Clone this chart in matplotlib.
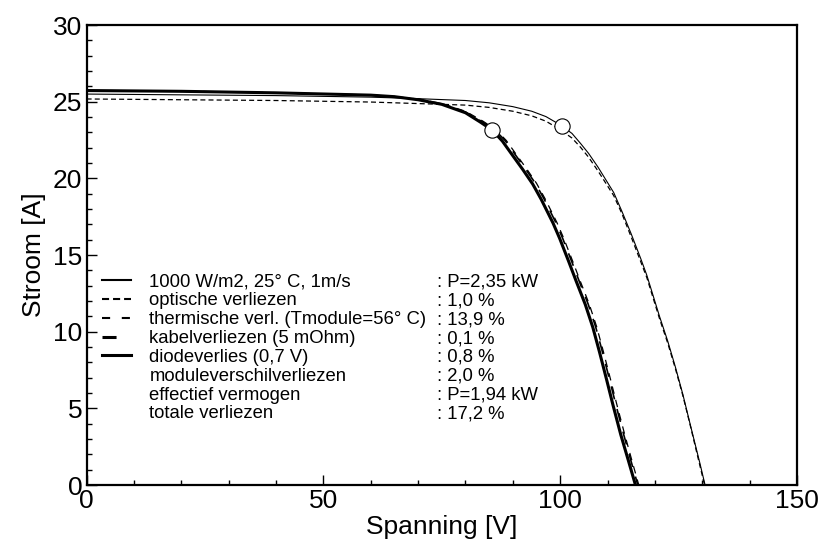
import matplotlib
matplotlib.use("Agg")
import matplotlib.pyplot as plt
from matplotlib.lines import Line2D
from matplotlib.ticker import MultipleLocator

plt.rcParams['font.family'] = ['Liberation Sans', 'DejaVu Sans']

# I-V curves (V in volt, I in ampere)
v_ref = [0, 20, 40, 60, 70, 80, 85, 90, 94, 97, 100.3, 102.5, 104.3, 106, 108,
         111.3, 113, 115, 117, 118.3, 121, 122.7, 124.3, 125.9, 127.4, 129.5, 130.6]
i_ref = [25.5, 25.45, 25.4, 25.3, 25.2, 25.08, 24.93, 24.68, 24.38, 24.03, 23.44, 22.93, 22.28, 21.63, 20.73,
         19.08, 17.88, 16.38, 14.78, 13.68, 10.98, 9.4, 7.73, 5.92, 4.03, 1.43, 0]

v_opt = [0, 20, 40, 60, 70, 80, 85, 90, 94, 97, 100, 102.5, 104.3, 106, 108,
         111.3, 113, 115, 117, 118.3, 121, 122.7, 124.3, 125.9, 127.4, 129.4, 130.5]
i_opt = [25.18, 25.13, 25.08, 24.98, 24.88, 24.78, 24.63, 24.38, 24.08, 23.73, 23.18, 22.63, 22.03, 21.38, 20.48,
         18.88, 17.73, 16.18, 14.58, 13.53, 10.83, 9.27, 7.63, 5.84, 3.98, 1.4, 0]

v_therm = [0, 20, 40, 60, 65, 70, 75, 80, 83.7, 86.4, 88.6, 90.8, 92.9, 95.0, 96.8, 99.3,
           100.7, 102.6, 104.2, 106.1, 107.7, 109.1, 110.6, 111.9, 113.6, 115.1, 116.6]
i_therm = [25.73, 25.68, 25.58, 25.43, 25.33, 25.18, 24.88, 24.38, 23.73, 23.18, 22.48, 21.53, 20.63, 19.68, 18.68, 17.13,
           16.13, 14.63, 13.33, 11.83, 10.33, 8.73, 6.93, 5.33, 3.33, 1.65, 0]

v_cable = [0, 20, 40, 60, 65, 70, 75, 80, 83.5, 86.2, 88.4, 90.6, 92.7, 94.8, 96.6, 99.1,
           100.5, 102.4, 104.0, 105.9, 107.5, 108.9, 110.4, 111.7, 113.4, 114.9, 116.4]
i_cable = [25.73, 25.68, 25.58, 25.43, 25.33, 25.16, 24.86, 24.33, 23.7, 23.16, 22.46, 21.51, 20.61, 19.66, 18.66, 17.11,
           16.11, 14.61, 13.31, 11.81, 10.31, 8.71, 6.91, 5.31, 3.31, 1.63, 0]

v_diode = [0, 20, 40, 60, 65, 70, 75, 80, 83.1, 85.7, 87.8, 90.0, 92.1, 94.2, 96.0, 98.5,
           99.9, 101.8, 103.4, 105.3, 106.9, 108.3, 109.8, 111.1, 112.8, 114.4, 115.9]
i_diode = [25.73, 25.68, 25.58, 25.43, 25.33, 25.13, 24.83, 24.28, 23.68, 23.14, 22.43, 21.48, 20.58, 19.63, 18.63, 17.08,
           16.08, 14.58, 13.28, 11.78, 10.28, 8.68, 6.88, 5.28, 3.28, 1.6, 0]

# maximum power points
mpp_v = [100.3, 85.7]
mpp_i = [23.44, 23.14]

labels = ["1000 W/m2, 25\u00b0 C, 1m/s",
          "optische verliezen",
          "thermische verl. (Tmodule=56\u00b0 C)",
          "kabelverliezen (5 mOhm)",
          "diodeverlies (0,7 V)",
          "moduleverschilverliezen",
          "effectief vermogen",
          "totale verliezen"]
values = [": P=2,35 kW", ": 1,0 %", ": 13,9 %", ": 0,1 %", ": 0,8 %",
          ": 2,0 %", ": P=1,94 kW", ": 17,2 %"]

fig = plt.figure(figsize=(8.25, 5.45), dpi=100)
ax = fig.add_axes([0.105, 0.110, 0.861, 0.844])

ax.plot(v_ref, i_ref, color='black', lw=0.8)
ax.plot(v_opt, i_opt, color='black', lw=0.9, linestyle=(0, (4, 2.5)))
ax.plot(v_therm, i_therm, color='black', lw=0.9, linestyle=(0, (6, 5)))
ax.plot(v_cable, i_cable, color='black', lw=1.2, linestyle=(0, (8, 6)))
ax.plot(v_diode, i_diode, color='black', lw=2.2)
ax.plot(mpp_v, mpp_i, linestyle='none', marker='o', ms=11, mfc='white', mec='black', mew=0.8, zorder=5)

ax.set_xlim(0, 150)
ax.set_ylim(0, 30)
ax.xaxis.set_major_locator(MultipleLocator(50))
ax.xaxis.set_minor_locator(MultipleLocator(10))
ax.yaxis.set_major_locator(MultipleLocator(5))
ax.yaxis.set_minor_locator(MultipleLocator(1))
ax.tick_params(which='both', direction='in', top=False, right=False, labelsize=19, pad=3)
ax.tick_params(which='major', length=7, width=1)
ax.tick_params(which='minor', length=3.5, width=1)
for s in ax.spines.values():
    s.set_linewidth(1.6)
ax.set_xlabel("Spanning [V]", fontsize=19, labelpad=1)
ax.set_ylabel("Stroom [A]", fontsize=19, labelpad=5)

# legend proxies, drawn a bit heavier than the curves like in the original
h_ref = Line2D([], [], color='black', lw=1.5)
h_opt = Line2D([], [], color='black', lw=1.5, linestyle=(0, (3.4, 1.9)))
h_th = Line2D([], [], color='black', lw=1.5, linestyle=(0, (3.9, 5.6)))
h_cab = Line2D([], [], color='black', lw=2.2, linestyle=(0, (4.6, 20)))
h_di = Line2D([], [], color='black', lw=2.2)
blank = Line2D([], [], linestyle='none')
handles = [h_ref, h_opt, h_th, h_cab, h_di, blank, blank, blank]
leg1 = ax.legend(handles, labels, loc='upper left', bbox_to_anchor=(0.021, 0.46),
                 frameon=False, fontsize=13.3, handlelength=1.62, handletextpad=0.97,
                 labelspacing=0.1, borderpad=0, borderaxespad=0)
ax.add_artist(leg1)
ax.legend([blank] * 8, values, loc='upper left', bbox_to_anchor=(0.493, 0.46),
          frameon=False, fontsize=13.3, handlelength=0, handletextpad=0,
          labelspacing=0.1, borderpad=0, borderaxespad=0)

fig.savefig("out.png", dpi=100)
